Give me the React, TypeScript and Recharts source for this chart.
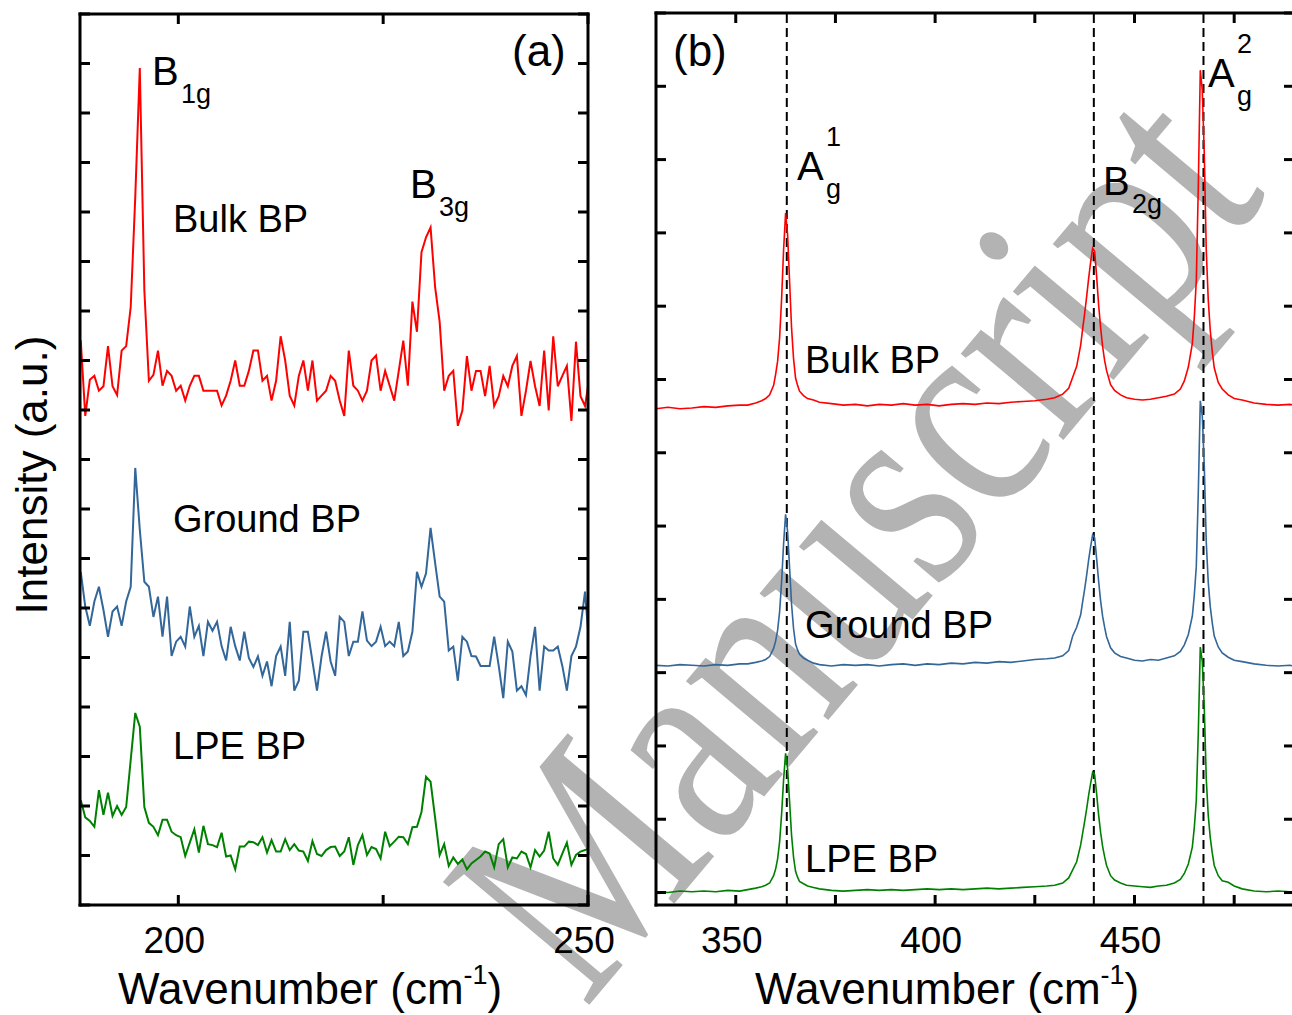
import React from "react";
import { LineChart, Line, XAxis, YAxis, ReferenceLine } from "recharts";

// ---- panel (a): low-frequency Raman, 188-250 cm-1 ----
const aStart = 188.09;
const aStep = 0.5545;

const bulkA = [
  11.41, 9.88, 10.61, 10.69, 10.39, 10.48, 11.29, 10.48, 10.3, 11.2,
  11.29, 12.08, 14.3, 16.91, 12.42, 10.59, 10.71, 11.2, 10.49, 10.79,
  10.69, 10.39, 10.49, 10.19, 10.49, 10.69, 10.69, 10.39, 10.39, 10.39,
  10.39, 10.09, 10.29, 10.59, 11.0, 10.49, 10.49, 10.79, 11.2, 11.2,
  10.59, 10.69, 10.19, 10.59, 11.49, 11.0, 10.29, 10.09, 10.69, 11.0,
  10.39, 11.0, 10.19, 10.29, 10.39, 10.69, 10.59, 10.19, 9.88, 11.2,
  10.49, 10.39, 10.19, 10.39, 11.0, 11.1, 10.39, 10.79, 10.49, 10.19,
  10.79, 11.4, 10.49, 12.19, 11.58, 13.19, 13.49, 13.69, 12.48, 11.78,
  10.39, 10.69, 10.79, 9.68, 9.99, 11.09, 10.39, 10.79, 10.79, 10.28,
  10.89, 10.08, 10.28, 10.69, 10.48, 10.89, 11.09, 9.88, 10.39, 10.99,
  10.48, 10.08, 11.2, 9.99, 11.49, 10.48, 10.69, 10.89, 9.78, 11.38,
  10.28, 10.08, 10.69,
];

const groundA = [
  6.73, 6.03, 5.64, 6.13, 6.43, 5.96, 5.42, 5.93, 6.03, 5.64,
  6.13, 6.43, 8.83, 7.58, 6.53, 6.43, 5.82, 6.23, 5.42, 6.23,
  5.03, 5.32, 5.42, 5.22, 6.03, 5.42, 5.64, 5.03, 5.72, 5.54,
  5.72, 5.23, 4.94, 5.62, 5.23, 4.94, 5.52, 4.99, 4.81, 5.02,
  4.63, 4.92, 4.42, 5.03, 5.22, 4.63, 5.72, 4.33, 4.53, 5.52,
  5.52, 4.92, 4.33, 5.02, 5.52, 4.92, 4.63, 5.82, 5.72, 5.03,
  5.32, 5.32, 5.93, 5.34, 5.23, 5.32, 5.62, 5.23, 5.32, 5.23,
  5.72, 5.03, 5.12, 5.52, 6.73, 6.43, 6.7, 7.62, 6.91, 6.23,
  6.13, 5.14, 5.22, 4.53, 5.42, 5.32, 5.03, 5.02, 4.83, 4.83,
  4.83, 5.42, 4.83, 4.18, 5.32, 5.12, 4.33, 4.42, 4.24, 5.03,
  5.62, 4.33, 5.22, 5.14, 5.14, 5.22, 4.83, 4.33, 5.03, 5.22,
  5.62, 6.33, 5.15,
];

const lpeA = [
  2.12, 1.77, 1.7, 1.58, 2.32, 1.82, 2.27, 1.8, 2.0, 1.82,
  1.98, 2.93, 3.88, 3.6, 1.98, 1.66, 1.58, 1.41, 1.72, 1.72,
  1.48, 1.41, 1.37, 0.99, 1.26, 1.53, 1.06, 1.6, 1.23, 1.21,
  1.17, 1.46, 0.98, 1.0, 0.72, 1.18, 1.18, 1.28, 1.27, 1.21,
  1.37, 1.06, 1.31, 1.08, 1.08, 1.33, 1.11, 1.23, 1.1, 1.08,
  0.89, 1.29, 1.03, 0.99, 1.11, 1.17, 1.18, 0.99, 1.08, 1.37,
  0.81, 1.21, 1.41, 1.01, 1.17, 1.13, 0.94, 1.48, 1.19, 1.28,
  1.38, 1.37, 1.23, 1.57, 1.58, 1.88, 2.59, 2.49, 1.76, 1.01,
  1.23, 0.79, 0.96, 0.83, 0.92, 0.72, 0.84, 0.91, 0.98, 1.08,
  1.04, 0.76, 1.23, 1.33, 0.76, 0.96, 0.94, 1.08, 1.03, 0.76,
  1.11, 0.98, 1.1, 1.48, 0.94, 0.81, 1.04, 1.26, 0.81, 1.01,
  1.08, 1.11, 1.15,
];

const ticksA = [200, 225, 250];
const labelsA = [200, 250];
const yTicksA = [0, 1, 2, 3, 4, 5, 6, 7, 8, 9, 10, 11, 12, 13, 14, 15, 16, 17, 18];

// ---- panel (b): 330-490 cm-1 ----
const waveB = [
  330, 333, 336, 339, 342, 345, 348, 351, 353, 355,
  356.5, 357.5, 358.5, 359.5, 360, 360.5, 361, 361.5, 362, 362.5,
  363, 363.5, 364, 364.5, 365, 365.5, 366, 367, 368, 369.5,
  371, 374, 377, 380, 383, 386, 389, 392, 395, 398,
  401, 404, 407, 410, 413, 416, 419, 422, 425, 428,
  430, 432, 433.5, 434.5, 435.5, 436.5, 437, 437.5, 438, 438.5,
  439, 439.5, 440, 440.5, 441, 441.5, 442, 442.5, 443, 444,
  445, 446.5, 448, 450, 452, 454, 456, 458, 460, 461.5,
  462.5, 463.5, 464.5, 465, 465.5, 466, 466.5, 467, 467.5, 468,
  468.5, 469, 469.5, 470, 471, 472, 473.5, 475, 477, 480,
  483, 486, 489, 490,
];

const bulkB = [
  6.6, 6.62, 6.6, 6.61, 6.63, 6.62, 6.64, 6.65, 6.65, 6.68,
  6.71, 6.74, 6.79, 6.92, 7.07, 7.25, 7.57, 8.1, 8.77, 9.27,
  8.98, 8.34, 7.7, 7.28, 7.02, 6.92, 6.84, 6.78, 6.74, 6.72,
  6.69, 6.67, 6.65, 6.66, 6.64, 6.66, 6.65, 6.67, 6.65, 6.66,
  6.64, 6.66, 6.67, 6.66, 6.68, 6.67, 6.69, 6.7, 6.71, 6.73,
  6.75, 6.8, 6.88, 7.03, 7.18, 7.47, 7.69, 7.9, 8.13, 8.38,
  8.6, 8.79, 8.75, 8.41, 8.02, 7.71, 7.45, 7.26, 7.12, 6.93,
  6.85, 6.79, 6.75, 6.73, 6.72, 6.73, 6.75, 6.77, 6.8, 6.87,
  6.98, 7.17, 7.49, 7.85, 8.35, 9.63, 11.22, 10.95, 10.08, 8.76,
  8.08, 7.67, 7.38, 7.16, 6.96, 6.87, 6.79, 6.74, 6.72, 6.68,
  6.66, 6.65, 6.66, 6.65,
];

const groundB = [
  3.1, 3.09, 3.11, 3.1, 3.09, 3.11, 3.1, 3.12, 3.12, 3.14,
  3.16, 3.18, 3.22, 3.33, 3.43, 3.58, 3.83, 4.24, 4.76, 5.16,
  4.93, 4.43, 3.93, 3.6, 3.39, 3.31, 3.25, 3.2, 3.17, 3.13,
  3.11, 3.09, 3.11, 3.1, 3.11, 3.09, 3.11, 3.12, 3.1, 3.12,
  3.11, 3.13, 3.12, 3.14, 3.13, 3.15, 3.14, 3.16, 3.18, 3.19,
  3.2, 3.23, 3.3, 3.5, 3.62, 3.79, 3.97, 4.14, 4.33, 4.54,
  4.72, 4.88, 4.84, 4.56, 4.25, 3.98, 3.77, 3.62, 3.49, 3.34,
  3.27, 3.22, 3.2, 3.17, 3.16, 3.18, 3.17, 3.2, 3.23, 3.29,
  3.38, 3.52, 3.77, 4.06, 4.45, 5.46, 6.71, 6.5, 5.82, 4.78,
  4.23, 3.9, 3.68, 3.5, 3.35, 3.27, 3.21, 3.17, 3.15, 3.12,
  3.1, 3.09, 3.1, 3.09,
];

const lpeB = [
  0.01, 0.0, 0.02, 0.01, 0.02, 0.01, 0.03, 0.02, 0.04, 0.06,
  0.08, 0.1, 0.13, 0.23, 0.32, 0.46, 0.69, 1.07, 1.54, 1.9,
  1.69, 1.24, 0.78, 0.48, 0.29, 0.21, 0.15, 0.12, 0.09, 0.07,
  0.05, 0.03, 0.02, 0.03, 0.04, 0.03, 0.04, 0.03, 0.04, 0.05,
  0.04, 0.05, 0.04, 0.05, 0.06, 0.05, 0.06, 0.07, 0.08, 0.09,
  0.1, 0.13, 0.2, 0.31, 0.42, 0.65, 0.81, 0.97, 1.14, 1.33,
  1.49, 1.64, 1.61, 1.35, 1.06, 0.82, 0.63, 0.49, 0.37, 0.23,
  0.17, 0.13, 0.1, 0.09, 0.08, 0.07, 0.09, 0.1, 0.13, 0.18,
  0.26, 0.39, 0.62, 0.89, 1.26, 2.18, 3.35, 3.15, 2.52, 1.55,
  1.05, 0.75, 0.54, 0.37, 0.23, 0.16, 0.14, 0.09, 0.05, 0.02,
  0.01, 0.02, 0.01, 0.01,
];

const ticksB = [350, 375, 400, 425, 450, 475];
const labelsB = [350, 400, 450];
const yTicksB = [0, 1, 2, 3, 4, 5, 6, 7, 8, 9, 10, 11, 12];
const modesB = [362.8, 439.8, 467.3];

const rowsA = bulkA.map((v, i) => ({
  x: +(aStart + i * aStep).toFixed(3),
  bulk: v,
  ground: groundA[i],
  lpe: lpeA[i],
}));

const rowsB = waveB.map((w, i) => ({
  x: w,
  bulk: bulkB[i],
  ground: groundB[i],
  lpe: lpeB[i],
}));

const FONT = "'Liberation Sans', Arial, sans-serif";
const axisLine = { stroke: "#000", strokeWidth: 3, strokeLinecap: "square" as const };
const tickLine = { stroke: "#000", strokeWidth: 3 };
const noLabel = () => <g />;

const makeTick = (labels: number[]) => (props: any) => {
  const { x, payload } = props;
  if (!labels.includes(payload.value)) return <g />;
  return (
    <text x={x - 4} y={953} textAnchor="middle" fontFamily={FONT} fontSize={37} fill="#000">
      {payload.value}
    </text>
  );
};

const Sub = ({ x, y, main, sub, sup }: { x: number; y: number; main: string; sub?: string; sup?: string }) => (
  <g fontFamily={FONT} fill="#000">
    <text x={x} y={y} fontSize={40}>{main}</text>
    {sup && <text x={x + 29} y={y - 34} fontSize={27}>{sup}</text>}
    {sub && <text x={x + 29} y={y + 18} fontSize={27}>{sub}</text>}
  </g>
);

export default function App() {
  return (
    <div style={{ position: "absolute", left: 0, top: 0, width: 1292, height: 1015, overflow: "hidden", background: "#fff" }}>
      {/* watermark */}
      <svg width={1292} height={1015} style={{ position: "absolute", left: 0, top: 0 }}>
        <text
          transform="translate(585,1010) rotate(-50) scale(0.8,1)"
          fontFamily="'Liberation Serif', 'DejaVu Serif', serif"
          fontSize={292}
          fill="#b3b3b3"
        >
          Manuscript
        </text>
      </svg>

      <div style={{ position: "absolute", left: 0, top: 0 }}>
        <LineChart width={1292} height={1015} data={rowsA} margin={{ top: 14, left: 80, right: 704, bottom: 110 }}>
          <XAxis xAxisId="bot" dataKey="x" type="number" domain={[188, 250]} allowDataOverflow ticks={ticksA} interval={0}
            orientation="bottom" mirror tickSize={10} axisLine={axisLine} tickLine={tickLine} tick={makeTick(labelsA)} />
          <XAxis xAxisId="top" dataKey="x" type="number" domain={[188, 250]} allowDataOverflow ticks={ticksA} interval={0}
            orientation="top" mirror tickSize={10} axisLine={axisLine} tickLine={tickLine} tick={noLabel} />
          <YAxis yAxisId="l" type="number" domain={[0, 18]} allowDataOverflow ticks={yTicksA} interval={0}
            orientation="left" mirror tickSize={10} axisLine={axisLine} tickLine={tickLine} tick={noLabel} />
          <YAxis yAxisId="r" type="number" domain={[0, 18]} allowDataOverflow ticks={yTicksA} interval={0}
            orientation="right" mirror tickSize={10} axisLine={axisLine} tickLine={tickLine} tick={noLabel} />
          <Line xAxisId="bot" yAxisId="l" dataKey="bulk" stroke="#ff0000" strokeWidth={2} dot={false} isAnimationActive={false} />
          <Line xAxisId="bot" yAxisId="l" dataKey="ground" stroke="#336699" strokeWidth={2} dot={false} isAnimationActive={false} />
          <Line xAxisId="bot" yAxisId="l" dataKey="lpe" stroke="#008000" strokeWidth={2} dot={false} isAnimationActive={false} />
        </LineChart>
      </div>

      <div style={{ position: "absolute", left: 0, top: 0 }}>
        <LineChart width={1300} height={1015} data={rowsB} margin={{ top: 13, left: 656, right: 6, bottom: 110 }}>
          <XAxis xAxisId="bot" dataKey="x" type="number" domain={[330, 490]} allowDataOverflow ticks={ticksB} interval={0}
            orientation="bottom" mirror tickSize={10} axisLine={axisLine} tickLine={tickLine} tick={makeTick(labelsB)} />
          <XAxis xAxisId="top" dataKey="x" type="number" domain={[330, 490]} allowDataOverflow ticks={ticksB} interval={0}
            orientation="top" mirror tickSize={10} axisLine={axisLine} tickLine={tickLine} tick={noLabel} />
          <YAxis yAxisId="l" type="number" domain={[-0.17, 12]} allowDataOverflow ticks={yTicksB} interval={0}
            orientation="left" mirror tickSize={10} axisLine={axisLine} tickLine={tickLine} tick={noLabel} />
          <YAxis yAxisId="r" type="number" domain={[-0.17, 12]} allowDataOverflow ticks={yTicksB} interval={0}
            orientation="right" mirror tickSize={10} axisLine={axisLine} tickLine={tickLine} tick={noLabel} />
          {modesB.map((m) => (
            <ReferenceLine key={m} xAxisId="bot" yAxisId="l" x={m} stroke="#000" strokeWidth={2} strokeDasharray="9 5" />
          ))}
          <Line xAxisId="bot" yAxisId="l" dataKey="bulk" stroke="#ff0000" strokeWidth={1.6} dot={false} isAnimationActive={false} />
          <Line xAxisId="bot" yAxisId="l" dataKey="ground" stroke="#336699" strokeWidth={1.6} dot={false} isAnimationActive={false} />
          <Line xAxisId="bot" yAxisId="l" dataKey="lpe" stroke="#008000" strokeWidth={1.6} dot={false} isAnimationActive={false} />
        </LineChart>
      </div>

      {/* labels */}
      <svg width={1292} height={1015} style={{ position: "absolute", left: 0, top: 0, pointerEvents: "none" }}>
        <g fontFamily={FONT} fill="#000">
          <text x={512} y={66} fontSize={44}>(a)</text>
          <text x={673} y={66} fontSize={44}>(b)</text>
          <text x={173} y={232} fontSize={38}>Bulk BP</text>
          <text x={173} y={532} fontSize={38}>Ground BP</text>
          <text x={173} y={759} fontSize={38}>LPE BP</text>
          <text x={805} y={373} fontSize={38}>Bulk BP</text>
          <text x={805} y={638} fontSize={38}>Ground BP</text>
          <text x={805} y={872} fontSize={38}>LPE BP</text>
          <text x={118} y={1004} fontSize={44}>
            Wavenumber (cm<tspan fontSize={27} dy={-20}>-1</tspan><tspan fontSize={44} dy={20}>)</tspan>
          </text>
          <text x={755} y={1004} fontSize={44}>
            Wavenumber (cm<tspan fontSize={27} dy={-20}>-1</tspan><tspan fontSize={44} dy={20}>)</tspan>
          </text>
          <text transform="translate(47,475) rotate(-90)" textAnchor="middle" fontSize={44}>Intensity (a.u.)</text>
        </g>
        <Sub x={152} y={85} main="B" sub="1g" />
        <Sub x={410} y={198} main="B" sub="3g" />
        <Sub x={797} y={180} main="A" sub="g" sup="1" />
        <Sub x={1103} y={195} main="B" sub="2g" />
        <Sub x={1208} y={87} main="A" sub="g" sup="2" />
      </svg>
    </div>
  );
}
